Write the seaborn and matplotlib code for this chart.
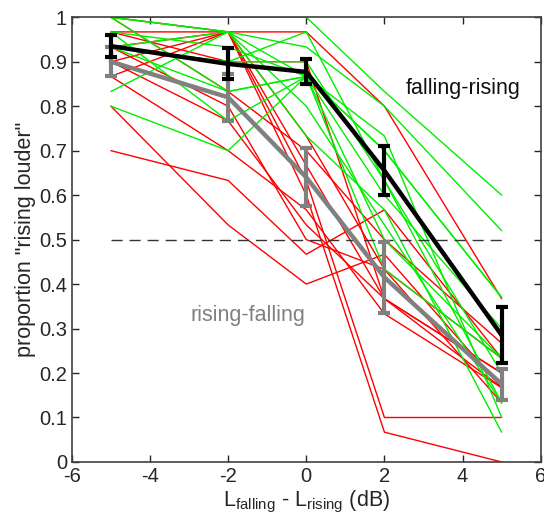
import numpy as np
import pandas as pd
import seaborn as sns
import matplotlib
matplotlib.use('Agg')
import matplotlib.pyplot as plt

# level differences (dB)
levels = [-5, -2, 0, 2, 5]

# individual listeners, falling-rising order (green)
green_lines = [
    [1.0, 1.0, 1.0, 0.833, 0.6],
    [1.0, 0.967, 0.933, 0.8, 0.52],
    [1.0, 0.833, 0.867, 0.7, 0.37],
    [0.933, 0.967, 0.867, 0.6, 0.3],
    [0.933, 0.9, 0.967, 0.633, 0.2],
    [0.933, 0.833, 0.867, 0.7, 0.37],
    [0.833, 0.967, 0.8, 0.533, 0.133],
    [0.8, 0.7, 0.867, 0.733, 0.1],
    [0.967, 0.767, 0.867, 0.5, 0.233],
    [1.0, 0.967, 0.733, 0.567, 0.067],
    [0.933, 0.9, 0.9, 0.633, 0.133],
    [0.967, 0.933, 0.867, 0.433, 0.233],
]

# individual listeners, rising-falling order (red)
red_lines = [
    [1.0, 0.967, 0.967, 0.8, 0.367],
    [0.967, 0.9, 0.9, 0.367, 0.2],
    [0.933, 0.967, 0.733, 0.433, 0.133],
    [0.867, 0.967, 0.667, 0.367, 0.167],
    [0.8, 0.533, 0.4, 0.467, 0.167],
    [0.7, 0.633, 0.467, 0.567, 0.233],
    [0.967, 0.967, 0.633, 0.1, 0.1],
    [0.9, 0.967, 0.6, 0.067, 0.0],
    [0.9, 0.767, 0.533, 0.367, 0.2],
    [0.867, 0.7, 0.567, 0.333, 0.167],
    [1.0, 0.833, 0.7, 0.5, 0.267],
    [0.933, 0.8, 0.5, 0.433, 0.233],
]

# group means and error bar half-widths
fr_mean = [0.935, 0.895, 0.877, 0.655, 0.285]
fr_err = [0.025, 0.035, 0.028, 0.055, 0.063]
rf_mean = [0.90, 0.82, 0.64, 0.415, 0.175]
rf_err = [0.033, 0.053, 0.065, 0.08, 0.035]

rows = []
for i, line in enumerate(green_lines):
    for x, p in zip(levels, line):
        rows.append(('g%d' % i, 'fr', x, p))
for i, line in enumerate(red_lines):
    for x, p in zip(levels, line):
        rows.append(('r%d' % i, 'rf', x, p))
df = pd.DataFrame(rows, columns=['subj', 'group', 'x', 'p'])

sns.set_style('ticks')
plt.rcParams['font.family'] = ['Liberation Sans', 'DejaVu Sans']
plt.rcParams['axes.unicode_minus'] = False

fig = plt.figure(figsize=(5.44, 5.22), dpi=100)
ax = fig.add_axes([0.132, 0.115, 0.862, 0.852])

sns.lineplot(data=df, x='x', y='p', units='subj', hue='group', estimator=None,
             palette={'fr': '#00ee00', 'rf': '#ff0000'}, hue_order=['rf', 'fr'],
             lw=1, legend=False, ax=ax)

ax.plot([-5, 5], [0.5, 0.5], ls=(0, (8, 5)), color='#333333', lw=1)

sns.lineplot(x=levels, y=rf_mean, color='#808080', lw=3.2, ax=ax)
ax.errorbar(levels, rf_mean, yerr=rf_err, fmt='none', ecolor='#808080',
            elinewidth=3, capsize=4, capthick=3)
sns.lineplot(x=levels, y=fr_mean, color='black', lw=3.2, ax=ax)
ax.errorbar(levels, fr_mean, yerr=fr_err, fmt='none', ecolor='black',
            elinewidth=3, capsize=4, capthick=3)

ax.text(2.55, 0.84, 'falling-rising', fontsize=15.5, color='#111111', va='center')
ax.text(-2.97, 0.33, 'rising-falling', fontsize=15.5, color='#808080', va='center')

ax.set_xlim(-6, 6)
ax.set_ylim(0, 1)
ax.set_xticks(np.arange(-6, 7, 2))
ax.set_yticks(np.arange(0, 1.01, 0.1))
ax.set_yticklabels(['0', '0.1', '0.2', '0.3', '0.4', '0.5', '0.6', '0.7', '0.8', '0.9', '1'])
ax.tick_params(direction='in', top=True, right=True, length=5, width=1,
               labelsize=14.5, colors='#262626')
for s in ax.spines.values():
    s.set_linewidth(1.2)
    s.set_color('#404040')
ax.set_xlabel(r'$\mathregular{L_{falling}}$ - $\mathregular{L_{rising}}$ (dB)', fontsize=15.5, labelpad=2)
ax.set_ylabel('proportion "rising louder"', fontsize=15.5, labelpad=2)

plt.savefig('out.png', dpi=100)
